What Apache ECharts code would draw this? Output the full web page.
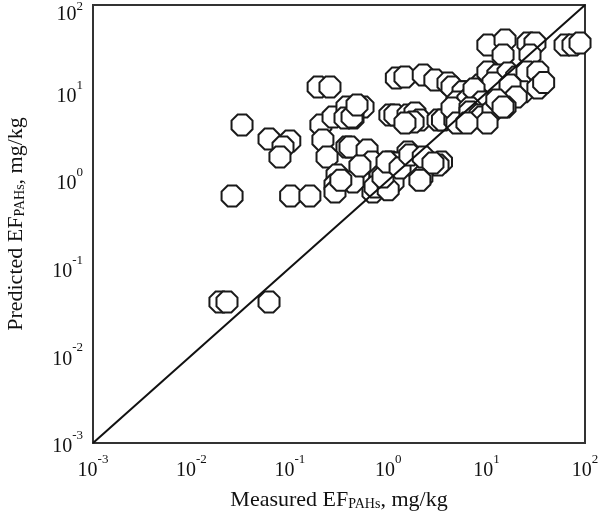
<!DOCTYPE html>
<html>
<head>
<meta charset="utf-8">
<script src="https://cdn.jsdelivr.net/npm/echarts@6/dist/echarts.min.js"></script>
<style>html,body{margin:0;padding:0;background:#fff}#c{width:600px;height:512px}</style>
</head>
<body>
<div id="c"></div>
<script>
// Measured EF (x) and predicted EF (y), mg/kg
var measured = [
  0.0195,0.0230,0.0615,
  0.0327,0.0259,0.102,0.160,0.0615,0.100,0.0853,0.0794,
  0.194,0.256,0.207,0.275,0.381,0.555,0.439,0.217,0.381,0.239,0.555,
  0.302,0.288,0.288,0.439,0.654,0.826,0.700,1.09,1.12,1.21,1.04,
  0.364,0.429,0.482,0.409,0.610,0.684,1.04,1.59,2.27,3.48,1.23,1.79,3.21,2.20,0.826,
  0.735,1.00,0.516,0.330,
  10.3,15.4,26.3,31.0,14.7,27.6,62.7,75.5,89.0,
  1.48,2.27,2.98,4.05,4.45,6.03,8.57,10.3,13.0,16.5,20.2,25.7,33.2,23.4,33.2,11.6,17.3,5.76,4.99,6.46,
  7.45,20.0,38.0,9.0,
  1.17,1.59,1.87,2.10,1.79,1.48,3.21,3.56,4.76,4.45,4.99,6.78,6.78,8.57,8.98,11.6,15.4,12.7,14.7,10.1,6.31,
  0.885,0.973,1.32,1.66,2.27,2.85,2.10
];
var predicted = [
  0.0407,0.0407,0.0407,
  4.27,0.661,0.661,0.661,2.95,2.80,2.39,1.84,
  11.6,11.6,4.27,5.26,6.85,6.85,5.13,2.88,2.39,1.84,2.05,
  1.15,0.881,0.733,0.953,1.57,1.15,0.733,1.57,0.953,14.7,5.55,
  5.13,5.26,7.21,2.39,2.21,1.61,1.61,2.10,1.70,1.61,1.57,1.49,1.49,1.09,1.09,
  0.836,0.780,1.45,1.00,
  34.9,39.8,36.8,36.8,26.9,26.9,34.9,34.9,36.8,
  15.1,15.9,13.9,12.9,11.6,10.2,12.2,17.2,15.9,16.7,15.1,17.2,17.2,10.2,11.3,12.9,12.2,10.2,7.82,8.24,
  11.0,8.9,13.0,7.8,
  5.55,5.55,5.85,4.86,4.61,4.50,4.86,4.86,4.86,6.67,4.50,6.67,6.01,5.55,5.26,6.33,6.85,8.24,6.85,4.50,4.50,
  1.09,1.61,1.38,1.94,1.84,1.57,1.00
];
var tickExps = ['-3','-2','-1','0','1','2'];
var lineEnds = [0.001, 100];

var pts = measured.map(function(v, i){ return [v, predicted[i]]; });
var octagon = 'path://M29.3 0L70.7 0L100 29.3L100 70.7L70.7 100L29.3 100L0 70.7L0 29.3Z';
var FONT = '"Liberation Serif","DejaVu Serif",serif';

function expIndex(v){ return Math.round(Math.log(v) / Math.LN10) + 3; }
function xFmt(v){ return '{b|10}{s|' + tickExps[expIndex(v)] + '}'; }
function yFmt(v){
  var k = expIndex(v);
  if (k === tickExps.length - 1) return '{bT|10}{sT|' + tickExps[k] + '}';
  return '{b|10}{s|' + tickExps[k] + '}';
}
var tickRich = {
  b: {fontSize: 20, fontFamily: FONT, color: '#111', lineHeight: 28, verticalAlign: 'bottom'},
  s: {fontSize: 13, fontFamily: FONT, color: '#111', lineHeight: 12, verticalAlign: 'top'},
  bT: {fontSize: 20, fontFamily: FONT, color: '#111', lineHeight: 40, verticalAlign: 'bottom'},
  sT: {fontSize: 13, fontFamily: FONT, color: '#111', lineHeight: 12, verticalAlign: 'bottom', padding: [0, 0, 12, 0]}
};
var nameRich = {
  a: {fontSize: 22, fontFamily: FONT, color: '#111', lineHeight: 28, verticalAlign: 'bottom'},
  sub: {fontSize: 14, fontFamily: FONT, color: '#111', lineHeight: 10, verticalAlign: 'bottom'}
};

var chart = echarts.init(document.getElementById('c'), null, {renderer: 'canvas'});
chart.setOption({
  animation: false,
  backgroundColor: '#fff',
  grid: {left: 93, right: 15, top: 5, bottom: 69, containLabel: false, outerBoundsMode: 'none',
         show: true, borderColor: '#333', borderWidth: 2, backgroundColor: 'transparent'},
  xAxis: {
    type: 'log', logBase: 10, min: 0.001, max: 100,
    axisLine: {show: false}, axisTick: {show: false}, splitLine: {show: false}, minorTick: {show: false},
    axisLabel: {formatter: xFmt, rich: tickRich, margin: 10},
    name: '{a|Measured EF}{sub|PAHs}{a|, mg/kg}',
    nameLocation: 'middle', nameGap: 40,
    nameTextStyle: {rich: nameRich}
  },
  yAxis: {
    type: 'log', logBase: 10, min: 0.001, max: 100,
    axisLine: {show: false}, axisTick: {show: false}, splitLine: {show: false}, minorTick: {show: false},
    axisLabel: {formatter: yFmt, rich: tickRich, margin: 10},
    name: '{a|Predicted EF}{sub|PAHs}{a|, mg/kg}',
    nameLocation: 'middle', nameGap: 66,
    nameTextStyle: {rich: nameRich}
  },
  series: [
    {
      type: 'scatter', data: pts, symbol: octagon, symbolSize: 21,
      itemStyle: {color: '#fff', borderColor: '#1a1a1a', borderWidth: 2, opacity: 1},
      z: 2
    },
    {
      type: 'line', data: [[lineEnds[0], lineEnds[0]], [lineEnds[1], lineEnds[1]]],
      symbol: 'none', lineStyle: {color: '#111', width: 2}, z: 3
    }
  ]
});
</script>
</body>
</html>
